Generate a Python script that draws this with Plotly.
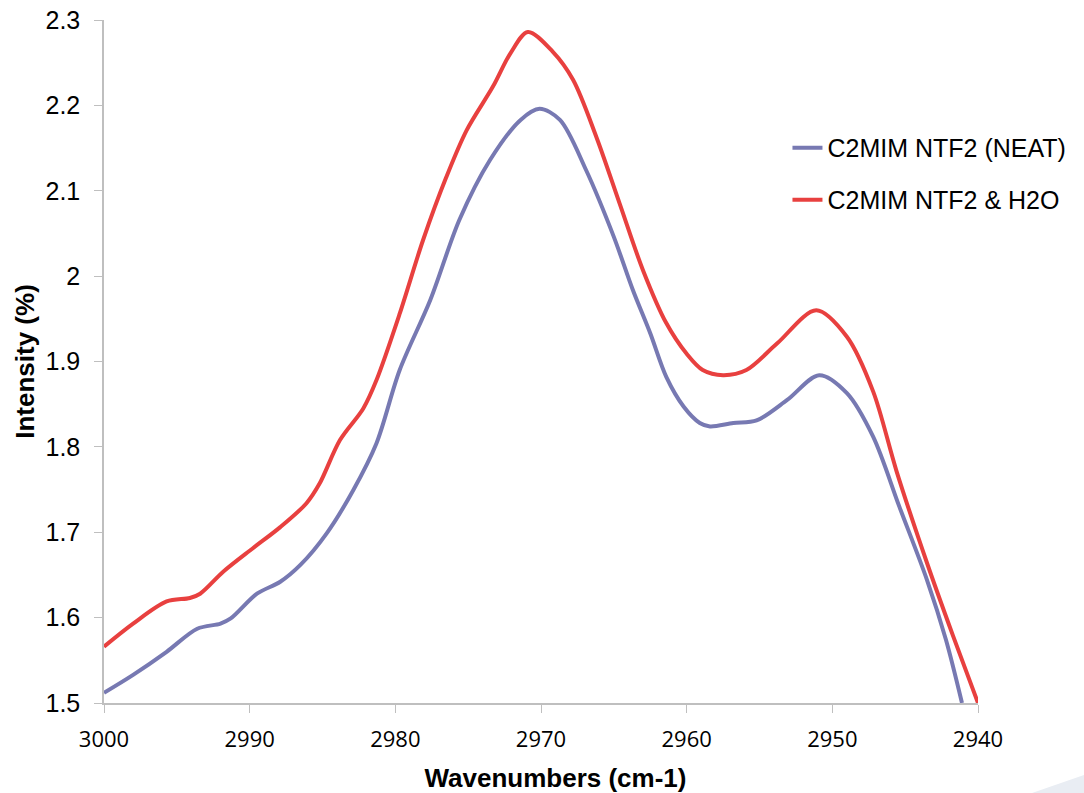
import plotly.graph_objects as go

# Wavenumbers (cm-1) and intensities
wn_neat = [3000, 2998.0, 2995.7, 2993.6, 2992.0, 2991.3, 2989.5, 2987.9, 2986.5, 2984.7,
           2982.9, 2981.3, 2979.7, 2977.6, 2975.6, 2973.5, 2971.4, 2970.1, 2968.7, 2966.9,
           2965.0, 2963.7, 2962.5, 2961.4, 2960.2, 2959.1, 2958.4, 2956.8, 2955.2, 2953.1,
           2950.9, 2949.0, 2947.2, 2945.4, 2943.5, 2942.2, 2941.1]
neat = [1.512, 1.533, 1.560, 1.587, 1.593, 1.599, 1.628, 1.642, 1.662, 1.699,
        1.749, 1.804, 1.890, 1.972, 2.066, 2.136, 2.183, 2.196, 2.183, 2.124,
        2.046, 1.984, 1.933, 1.882, 1.847, 1.828, 1.824, 1.828, 1.831, 1.855,
        1.884, 1.863, 1.812, 1.730, 1.644, 1.574, 1.500]

wn_h2o = [3000, 2998.0, 2995.7, 2994.1, 2993.4, 2991.8, 2989.8, 2987.9, 2986.1, 2985.2,
          2983.8, 2982.2, 2981.3, 2979.7, 2978.1, 2976.5, 2975.1, 2973.3, 2972.1, 2970.9,
          2969.2, 2967.8, 2966.2, 2964.6, 2963.0, 2961.4, 2960.0, 2958.9, 2957.5,
          2955.9, 2953.8, 2951.1, 2949.0, 2947.2, 2945.6, 2943.5, 2941.7, 2940.0]
h2o = [1.566, 1.593, 1.619, 1.623, 1.628, 1.654, 1.681, 1.706, 1.734, 1.757,
       1.808, 1.845, 1.878, 1.956, 2.042, 2.116, 2.171, 2.222, 2.261, 2.286,
       2.263, 2.230, 2.163, 2.085, 2.007, 1.945, 1.909, 1.890, 1.884,
       1.890, 1.921, 1.960, 1.929, 1.865, 1.772, 1.664, 1.578, 1.500]

names = ["C2MIM NTF2 (NEAT)", "C2MIM NTF2 &amp; H2O"]
colors = ["#7779B2", "#E8403F"]

x_ticks = [3000, 2990, 2980, 2970, 2960, 2950, 2940]
y_ticks = [1.5, 1.6, 1.7, 1.8, 1.9, 2.0, 2.1, 2.2, 2.3]
y_tick_text = ["1.5", "1.6", "1.7", "1.8", "1.9", "2", "2.1", "2.2", "2.3"]

fig = go.Figure()
fig.add_trace(go.Scatter(x=wn_neat, y=neat, mode="lines", name=names[0], showlegend=True,
                         line=dict(color=colors[0], width=4, shape="spline", smoothing=0.9),
                         legend="legend"))
fig.add_trace(go.Scatter(x=wn_h2o, y=h2o, mode="lines", name=names[1], showlegend=True,
                         line=dict(color=colors[1], width=4, shape="spline", smoothing=0.9),
                         legend="legend2"))

axis_col = "#BFBFBF"
leg_font = dict(family="Liberation Sans, Arial", size=25, color="#000")
fig.update_layout(
    width=1084, height=793,
    showlegend=True,
    margin=dict(l=104, r=106, t=20, b=90),
    paper_bgcolor="white", plot_bgcolor="white",
    font=dict(family="Liberation Sans, Arial, sans-serif", color="#000000"),
    xaxis=dict(range=[3000, 2940], tickvals=x_ticks, ticks="outside", ticklen=8,
               tickcolor=axis_col, showline=True, linecolor=axis_col, linewidth=1.5,
               showgrid=False, zeroline=False, automargin=False, ticklabelstandoff=8,
               tickfont=dict(family="Open Sans, sans-serif", size=22, color="#000"),
               title=dict(text="&nbsp;&nbsp;&nbsp;&nbsp;<b>Wavenumbers (cm-1)</b>",
                          font=dict(family="Liberation Sans, Arial", size=26, color="#000"),
                          standoff=17)),
    yaxis=dict(range=[1.5, 2.3], tickvals=y_ticks, ticktext=y_tick_text, ticks="outside",
               ticklen=8, tickcolor=axis_col, showline=True, linecolor=axis_col, linewidth=1.5,
               showgrid=False, zeroline=False, automargin=False, ticklabelstandoff=9,
               tickfont=dict(family="Liberation Sans, Arial", size=25, color="#000"),
               title=dict(text="<b>Intensity (%)</b>",
                          font=dict(family="Liberation Sans, Arial", size=26, color="#000"),
                          standoff=3)),
    legend=dict(x=0.782, y=0.8126, xanchor="left", yanchor="middle",
                bgcolor="rgba(0,0,0,0)", font=leg_font),
    legend2=dict(x=0.782, y=0.7365, xanchor="left", yanchor="middle",
                 bgcolor="rgba(0,0,0,0)", font=leg_font),
    shapes=[dict(type="path", xref="paper", yref="paper",
                 path="M 1.0618 -0.1318 L 1.1213 -0.1054 L 1.1213 -0.1318 Z",
                 fillcolor="#E9EDF3", line=dict(width=0), layer="below")],
)

fig.write_html("out.html", config={"displayModeBar": False},
               post_script="document.body.style.margin='0';")
